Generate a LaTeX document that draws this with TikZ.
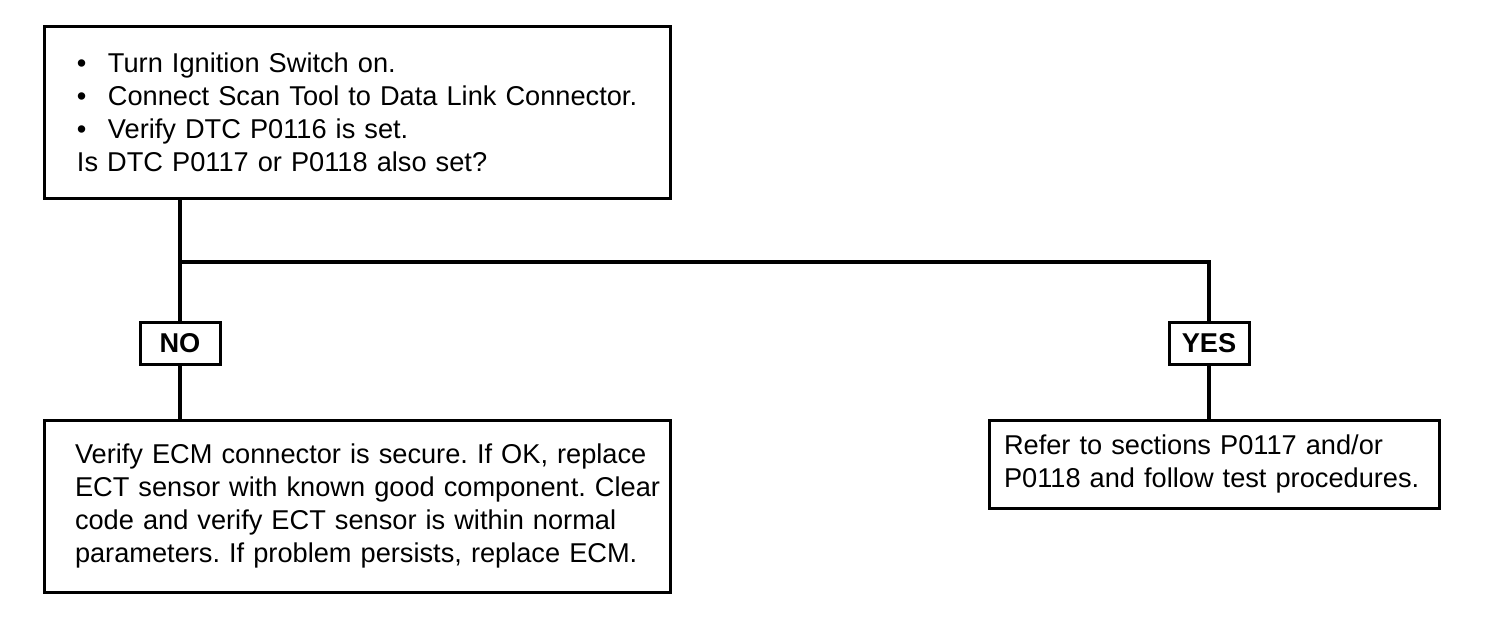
\documentclass[tikz,border=0pt]{standalone}
\usepackage{fontspec}
\setmainfont{Liberation Sans}
\usetikzlibrary{positioning}
\frenchspacing
\tikzset{
  every picture/.style={line join=miter},
  stepbox/.style={draw, line width=1.5pt, align=left, inner sep=0pt,
    font=\fontsize{13.6}{16.5}\selectfont},
  indent/.style={execute at begin node={\leftskip=#1}},
  answer/.style={draw, line width=1.5pt, inner sep=0pt,
    minimum width=40pt, minimum height=21pt,
    font=\fontsize{13.6}{16}\selectfont\bfseries},
  link/.style={line width=1.6pt},
}
\newcommand{\bul}{\makebox[15.5pt][l]{\textbullet}}

\begin{document}
\begin{tikzpicture}[x=0.5pt,y=-0.5pt]
\useasboundingbox (0,0) rectangle (1504,642);
% question box
\node[stepbox, indent=16.5pt, text width=313pt, minimum height=85.5pt] (ign) at (357,112.5)
  {\bul Turn Ignition Switch on.\\
   \bul Connect Scan Tool to Data Link Connector.\\
   \bul Verify DTC P0116 is set.\\
   Is DTC P0117 or P0118 also set?};
% answers
\node[answer] (no) at (180,343) {NO};
\node[answer] (yes) at (1209,343) {YES};
% result boxes
\node[stepbox, indent=15.5pt, text width=313pt, minimum height=86pt] (fix) at (357,506)
  {Verify ECM connector is secure. If OK, replace\\
   ECT sensor with known good component. Clear\\
   code and verify ECT sensor is within normal\\
   parameters. If problem persists, replace ECM.};
\node[stepbox, indent=7.5pt, text width=225pt, minimum height=44pt] (refer) at (1214,464)
  {Refer to sections P0117 and/or\\
   P0118 and follow test procedures.};
% connectors
\coordinate (split) at (180,262);
\draw[link] (ign.south -| no.north) -- (no.north);
\draw[link] (split) -| (yes.north);
\draw[link] (no.south) -- (no.south |- fix.north);
\draw[link] (yes.south) -- (yes.south |- refer.north);
\end{tikzpicture}
\end{document}
